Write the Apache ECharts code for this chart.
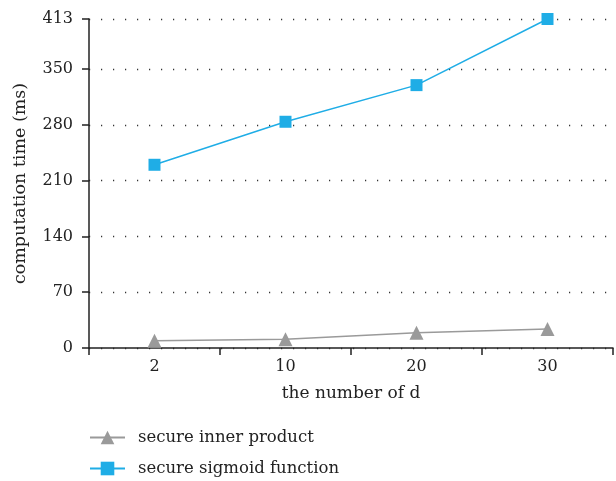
<!DOCTYPE html>
<html><head><meta charset="utf-8">
<script src="https://cdn.jsdelivr.net/npm/echarts@6/dist/echarts.min.js"></script>
<style>html,body{margin:0;padding:0;background:#fff}#c{width:616px;height:481px}</style>
</head><body><div id="c"></div>
<script>
const categories = ['2', '10', '20', '30'];
const innerProduct = [9, 11, 19, 24];
const sigmoid = [230, 284, 330, 413];
const yTicks = [0, 70, 140, 210, 280, 350, 413];

const font = '"DejaVu Serif", "Liberation Serif", serif';
const chart = echarts.init(document.getElementById('c'));
chart.setOption({
  animation: false,
  grid: {left: 89, right: 3, top: 19, bottom: 133, containLabel: false},
  legend: {
    orient: 'vertical', left: 89, top: 429, itemGap: 14, padding: 0, height: 80,
    itemWidth: 35, itemHeight: 17,
    textStyle: {fontFamily: font, fontSize: 16.5, color: '#222', padding: [0,0,0,8]},
    data: ['secure inner product', 'secure sigmoid function']
  },
  xAxis: {
    type: 'category', data: categories, boundaryGap: true,
    name: 'the number of d', nameLocation: 'middle', nameGap: 37,
    nameTextStyle: {fontFamily: font, fontSize: 17, color: '#222'},
    axisLine: {lineStyle: {color: '#222', width: 1.5}},
    axisTick: {show: true, length: 7, lineStyle: {color: '#222', width: 1.5}, alignWithLabel: false},
    axisLabel: {fontFamily: font, fontSize: 16, color: '#222', margin: 11},
    splitLine: {show: false}
  },
  yAxis: {
    type: 'value', min: yTicks[0], max: yTicks[yTicks.length - 1], interval: 70,
    name: 'computation time (ms)', nameLocation: 'middle', nameGap: 60,
    nameTextStyle: {fontFamily: font, fontSize: 17.5, color: '#222'},
    axisLine: {show: true, lineStyle: {color: '#222', width: 1.5}},
    axisTick: {show: true, inside: false, length: 7, lineStyle: {color: '#222', width: 1.5}},
    axisLabel: {fontFamily: font, fontSize: 16, color: '#222', margin: 16, showMaxLabel: true,
      customValues: yTicks},
    splitLine: {show: true, lineStyle: {color: '#333', type: [1.2, 10.8], width: 1.3}}
  },
  series: [
    {
      name: 'secure inner product', type: 'line', data: innerProduct,
      symbol: 'triangle', symbolSize: 14,
      itemStyle: {color: '#9a9a9a'}, lineStyle: {color: '#9a9a9a', width: 1.5}
    },
    {
      name: 'secure sigmoid function', type: 'line', data: sigmoid,
      symbol: 'rect', symbolSize: 12,
      itemStyle: {color: '#1fade6'}, lineStyle: {color: '#1fade6', width: 1.5}
    }
  ]
});
</script></body></html>
